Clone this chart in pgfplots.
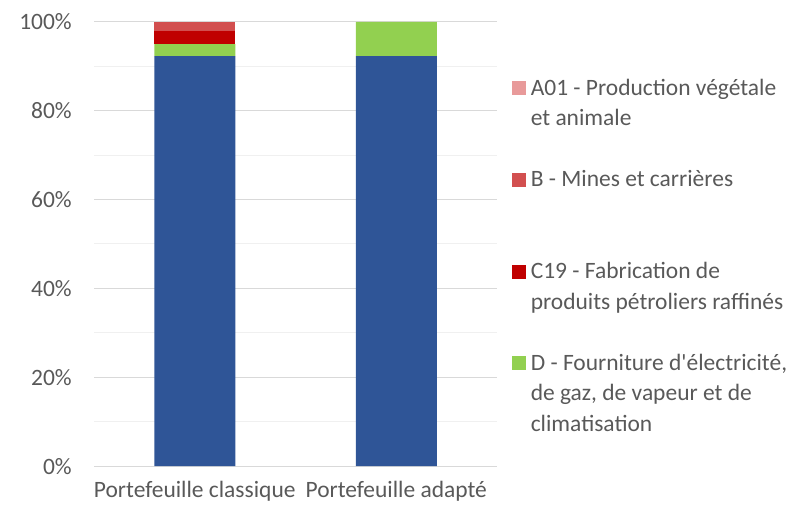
\documentclass[border=0pt]{standalone}
\usepackage{fontspec}
\setmainfont{Carlito}[Ligatures=TeXOff]
\usepackage{pgfplots}
\pgfplotsset{compat=1.18}
\definecolor{cBlue}{HTML}{2F5597}
\definecolor{cD}{HTML}{92D050}
\definecolor{cC}{HTML}{C00000}
\definecolor{cB}{HTML}{D24F4F}
\definecolor{cA}{HTML}{E89A9A}
\definecolor{txt}{HTML}{595959}
\definecolor{gmaj}{HTML}{D9D9D9}
\definecolor{gmin}{HTML}{F0F0F0}
\begin{document}
\begin{tikzpicture}
\useasboundingbox (0,0) rectangle (596.25pt,382.5pt);
\begin{axis}[
 at={(70.5pt,33pt)}, anchor=south west,
 scale only axis, width=302.25pt, height=333pt,
 ybar stacked, bar width=60.75pt,
 xmin=-0.5, xmax=1.5, ymin=0, ymax=100,
 xtick={0,1}, xticklabels={Portefeuille classique,Portefeuille adapté},
 ytick={0,20,40,60,80,100}, yticklabels={0\%,20\%,40\%,60\%,80\%,100\%},
 minor ytick={10,30,50,70,90},
 ymajorgrids, yminorgrids, xmajorgrids=false,
 major grid style={gmaj, line width=0.75pt},
 minor grid style={gmin, line width=0.75pt},
 axis line style={draw=none},
 tick style={draw=none},
 major tick length=0pt, minor tick length=0pt,
 tick label style={font=\fontsize{17.6}{21}\selectfont, text=txt, inner sep=0pt},
 xticklabel style={anchor=base, yshift=-23.25pt},
 yticklabel style={anchor=base east, xshift=-16.5pt, yshift=-6pt},
 legend cell align=left,
 legend style={at={(1.0372,0.882)}, anchor=north west, draw=none, fill=none,
   inner sep=0pt, row sep=5.95pt, column sep=3.4pt,
   font=\fontsize{17.6}{22.1}\selectfont, text=txt,
   nodes={inner sep=0pt}, cells={anchor=base west}},
 legend image code/.code={\fill[#1,draw=none] (0pt,0pt) rectangle (10.5pt,10.5pt);},
]
\addlegendimage{fill=cA, draw=none}
\addlegendentry{\strut A01 - Production végétale}
\addlegendimage{empty legend}
\addlegendentry{\strut et animale}
\addlegendimage{empty legend}
\addlegendentry{\strut}
\addlegendimage{fill=cB, draw=none}
\addlegendentry{\strut B - Mines et carrières}
\addlegendimage{empty legend}
\addlegendentry{\strut}
\addlegendimage{empty legend}
\addlegendentry{\strut}
\addlegendimage{fill=cC, draw=none}
\addlegendentry{\strut C19 - Fabrication de}
\addlegendimage{empty legend}
\addlegendentry{\strut produits pétroliers raffinés}
\addlegendimage{empty legend}
\addlegendentry{\strut}
\addlegendimage{fill=cD, draw=none}
\addlegendentry{\strut D - Fourniture d'électricité,}
\addlegendimage{empty legend}
\addlegendentry{\strut de gaz, de vapeur et de}
\addlegendimage{empty legend}
\addlegendentry{\strut climatisation}
\addplot[fill=cBlue, draw=none] coordinates {(0,92.3) (1,92.3)};
\addplot[fill=cD, draw=none] coordinates {(0,2.7) (1,7.7)};
\addplot[fill=cC, draw=none] coordinates {(0,3.0) (1,0)};
\addplot[fill=cB, draw=none] coordinates {(0,1.9) (1,0)};
\addplot[fill=cA, draw=none] coordinates {(0,0.1) (1,0)};
\end{axis}
\end{tikzpicture}
\end{document}
